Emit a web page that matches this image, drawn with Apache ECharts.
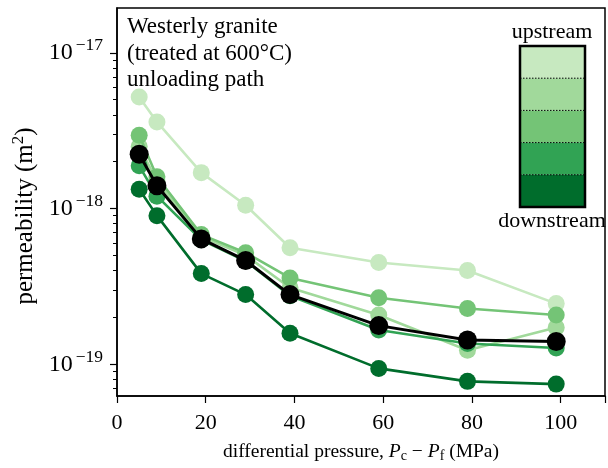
<!DOCTYPE html>
<html>
<head>
<meta charset="utf-8">
<script src="https://cdn.jsdelivr.net/npm/echarts@6/dist/echarts.min.js"></script>
<style>
  html, body { margin: 0; padding: 0; background: #fff; }
  #main { width: 608px; height: 468px; }
</style>
</head>
<body>
<div id="main"></div>
<script>
// differential pressure Pc - Pf (MPa)
const pressure = [5, 9, 19, 29, 39, 59, 79, 99];
// permeability (m^2), upstream -> downstream, plus the black curve
const perm1 = [5.2e-18, 3.6e-18, 1.7e-18, 1.05e-18, 5.6e-19, 4.5e-19, 4.0e-19, 2.45e-19];
const perm2 = [2.5e-18, 1.5e-18, 6.6e-19, 5.0e-19, 3.1e-19, 2.07e-19, 1.23e-19, 1.72e-19];
const perm3 = [2.95e-18, 1.6e-18, 6.8e-19, 5.2e-19, 3.58e-19, 2.67e-19, 2.28e-19, 2.07e-19];
const perm4 = [1.88e-18, 1.2e-18, 6.3e-19, 4.6e-19, 2.75e-19, 1.66e-19, 1.36e-19, 1.27e-19];
const perm5 = [1.33e-18, 9.0e-19, 3.82e-19, 2.8e-19, 1.58e-19, 9.4e-20, 7.76e-20, 7.45e-20];
const permBlack = [2.23e-18, 1.4e-18, 6.38e-19, 4.64e-19, 2.8e-19, 1.77e-19, 1.43e-19, 1.40e-19];

const greens = ['#c7e9c0', '#a1d99b', '#74c476', '#31a354', '#006d2c'];
const xTicks = [0, 20, 40, 60, 80, 100];
const yMajor = [1e-19, 1e-18, 1e-17];
const yMinor = [7e-20, 8e-20, 9e-20,
  2e-19, 3e-19, 4e-19, 5e-19, 6e-19, 7e-19, 8e-19, 9e-19,
  2e-18, 3e-18, 4e-18, 5e-18, 6e-18, 7e-18, 8e-18, 9e-18];

const FONT = 'Liberation Serif';

function pairs(ys) {
  return pressure.map((p, i) => [p, ys[i]]);
}

const allSeries = [perm1, perm2, perm3, perm4, perm5];
const series = allSeries.map((ys, i) => ({
  type: 'line',
  data: pairs(ys),
  symbol: 'circle',
  symbolSize: 17,
  lineStyle: { color: greens[i], width: 2.6 },
  itemStyle: { color: greens[i] },
  z: 2 + i
}));
series.push({
  type: 'line',
  data: pairs(permBlack),
  symbol: 'circle',
  symbolSize: 19,
  lineStyle: { color: '#000', width: 3 },
  itemStyle: { color: '#000' },
  z: 10
});

// legend colour bar (upstream -> downstream)
const barLeft = 520, barTop = 46, barW = 65, bandH = 32.2;
const legend = [];
greens.forEach((c, i) => {
  legend.push({ type: 'rect', shape: { x: barLeft, y: barTop + i * bandH, width: barW, height: bandH },
    style: { fill: c }, z: 100 });
  if (i > 0) {
    legend.push({ type: 'line', shape: { x1: barLeft, y1: barTop + i * bandH, x2: barLeft + barW, y2: barTop + i * bandH },
      style: { stroke: '#000', lineWidth: 1, lineDash: [1.5, 1.5] }, z: 101 });
  }
});
legend.push({ type: 'rect', shape: { x: barLeft, y: barTop, width: barW, height: bandH * 5 },
  style: { fill: 'none', stroke: '#000', lineWidth: 2.5 }, z: 102 });
legend.push({ type: 'text', x: 552, y: 32, style: { text: 'upstream', font: '22px ' + FONT, fill: '#000', align: 'center', verticalAlign: 'middle' }, z: 103 });
legend.push({ type: 'text', x: 552, y: 221, style: { text: 'downstream', font: '22px ' + FONT, fill: '#000', align: 'center', verticalAlign: 'middle' }, z: 103 });

const note = ['Westerly granite', '(treated at 600°C)', 'unloading path'];
note.forEach((t, i) => {
  legend.push({ type: 'text', x: 127, y: 27 + i * 26.5,
    style: { text: t, font: '23px ' + FONT, fill: '#000', align: 'left', verticalAlign: 'middle' }, z: 103 });
});

const myChart = echarts.init(document.getElementById('main'));
const option = {
  animation: false,
  textStyle: { fontFamily: FONT, color: '#000' },
  grid: { left: 117, right: -7, top: 8, bottom: 70, show: true, borderColor: '#000', borderWidth: 1.5 },
  xAxis: {
    type: 'value',
    min: 0, max: 110, interval: 20,
    splitLine: { show: false },
    axisLine: { lineStyle: { color: '#000', width: 1.5 } },
    axisTick: { length: 7, lineStyle: { color: '#000', width: 1.2 } },
    axisLabel: { color: '#000', fontSize: 22, fontFamily: FONT, margin: 16,
      formatter: v => (xTicks.indexOf(v) >= 0 ? String(v) : '') },
    name: 'differential pressure, {i|P}{sub|c} − {i|P}{sub|f} (MPa)',
    nameLocation: 'middle',
    nameGap: 45,
    nameTextStyle: {
      color: '#000', fontSize: 19.5, fontFamily: FONT,
      rich: {
        i: { fontStyle: 'italic', fontSize: 19.5, fontFamily: FONT, color: '#000' },
        sub: { fontSize: 14, fontFamily: FONT, color: '#000', padding: [8, 0, 0, 0] }
      }
    }
  },
  yAxis: [{
    type: 'log',
    min: 6.25e-20, max: 1.94e-17,
    splitLine: { show: false },
    axisLine: { lineStyle: { color: '#000', width: 1.5 } },
    axisTick: { length: 7, customValues: yMajor, lineStyle: { color: '#000', width: 1.2 } },
    axisLabel: {
      customValues: yMajor,
      margin: 14,
      formatter: v => '{b|10}{e|−' + Math.round(-Math.log10(v)) + '}',
      rich: {
        b: { fontSize: 24, fontFamily: FONT, color: '#000' },
        e: { fontSize: 17.5, fontFamily: FONT, color: '#000', padding: [0, 0, 14, 3] }
      }
    },
    name: 'permeability (m{s|2})',
    nameLocation: 'middle',
    nameGap: 75,
    nameTextStyle: {
      color: '#000', fontSize: 25, fontFamily: FONT,
      padding: [0, 28, 0, 0],
      rich: {
        s: { fontSize: 17, fontFamily: FONT, color: '#000', padding: [0, 0, 13, 0] }
      }
    }
  }, {
    type: 'log',
    min: 6.25e-20, max: 1.94e-17,
    position: 'left',
    splitLine: { show: false },
    axisLine: { show: false },
    axisTick: { length: 4, customValues: yMinor, lineStyle: { color: '#000', width: 1 } },
    axisLabel: { show: false }
  }],
  graphic: legend,
  series: series
};
option && myChart.setOption(option);
</script>
</body>
</html>
